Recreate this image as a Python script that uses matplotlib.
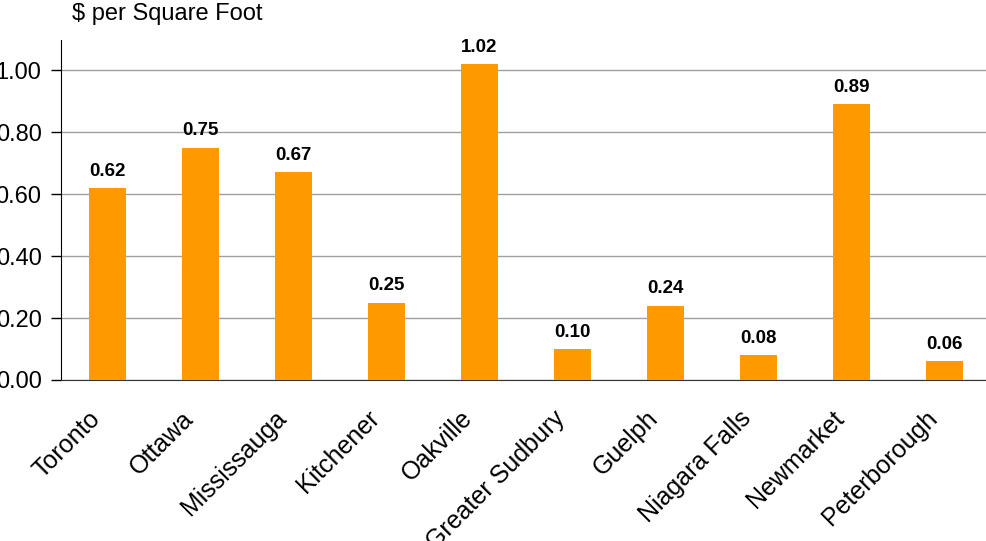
import matplotlib.pyplot as plt
import matplotlib.transforms as mtransforms
import numpy as np

plt.rcParams['font.family'] = ['Liberation Sans', 'DejaVu Sans']

cities = ['Toronto', 'Ottawa', 'Mississauga', 'Kitchener', 'Oakville',
          'Greater Sudbury', 'Guelph', 'Niagara Falls', 'Newmarket', 'Peterborough']
price_per_sqft = [0.62, 0.75, 0.67, 0.25, 1.02, 0.10, 0.24, 0.08, 0.89, 0.06]
y_ticks = [0.0, 0.2, 0.4, 0.6, 0.8, 1.0]

fig = plt.figure(figsize=(9.87, 5.41), dpi=100)
ax = fig.add_axes([61 / 987, 1 - 380 / 541, 930 / 987, 340 / 541])

x = np.arange(len(cities))
bars = ax.bar(x, price_per_sqft, width=0.4, color='#ff9900', zorder=3)
ax.bar_label(bars, labels=['%.2f' % v for v in price_per_sqft], padding=6,
             fontsize=13.5, fontweight='bold')

ax.set_xlim(-0.5, len(cities) - 0.5)
ax.set_ylim(0, 1.097)
ax.set_yticks(y_ticks)
ax.set_yticklabels(['%.2f' % v for v in y_ticks], fontsize=17)
ax.set_xticks(x)
ax.set_xticklabels(cities, rotation=45, ha='right', va='center',
                   rotation_mode='anchor', fontsize=18)
ax.tick_params(axis='x', length=0, pad=25)
ax.tick_params(axis='y', length=7, width=1, pad=7)

# nudge the city names a little to the left of their bars
shift = mtransforms.ScaledTranslation(-8 / 72, 0, fig.dpi_scale_trans)
for lbl in ax.get_xticklabels():
    lbl.set_transform(lbl.get_transform() + shift)

ax.grid(axis='y', color='#a0a0a0', linewidth=1, zorder=0)
for side in ['top', 'right']:
    ax.spines[side].set_visible(False)
ax.spines['left'].set_color('black')
ax.spines['bottom'].set_color('#333333')

fig.text(72 / 987, 1 - 14 / 541, '$ per Square Foot', fontsize=17, va='center', ha='left')

fig.savefig('out.png', dpi=100)
